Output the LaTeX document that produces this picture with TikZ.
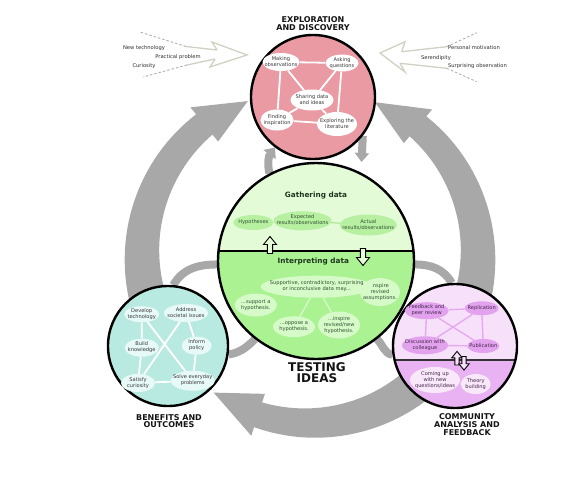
\documentclass[tikz,border=0pt]{standalone}
\usepackage{fontspec}
\setmainfont{DejaVu Sans}
\usetikzlibrary{shapes.geometric,arrows.meta}
\pgfdeclarelayer{ring}
\pgfdeclarelayer{sat}
\pgfdeclarelayer{lines}
\pgfsetlayers{ring,sat,lines,main}
\definecolor{ringgray}{RGB}{168,168,168}
\definecolor{pinkfill}{RGB}{234,154,162}
\definecolor{greentop}{RGB}{228,251,216}
\definecolor{greenbot}{RGB}{170,242,146}
\definecolor{greenell}{RGB}{182,240,160}
\definecolor{greenell2}{RGB}{214,250,200}
\definecolor{greenline}{RGB}{170,232,150}
\definecolor{greenlinetwo}{RGB}{214,250,200}
\definecolor{greentxt}{RGB}{50,80,50}
\definecolor{greentitle}{RGB}{30,55,30}
\definecolor{tealfill}{RGB}{185,234,225}
\definecolor{tealell}{RGB}{232,250,247}
\definecolor{purptop}{RGB}{247,224,250}
\definecolor{purpbot}{RGB}{233,178,242}
\definecolor{purpell}{RGB}{226,162,238}
\definecolor{purpelltwo}{RGB}{248,232,250}
\definecolor{purpline}{RGB}{230,168,240}
\definecolor{purptxt}{RGB}{70,38,75}
\definecolor{txtgray}{RGB}{55,55,55}
\definecolor{titleblack}{RGB}{20,20,20}
\definecolor{sidetxt}{RGB}{45,45,45}
\definecolor{sideline}{RGB}{208,208,195}
\definecolor{sidedashc}{RGB}{175,175,175}
\newcommand{\mytxt}[1]{\makebox[0pt]{\smash{\raisebox{-1.2pt}{\begin{tabular}{@{}c@{}}#1\end{tabular}}}}}
\tikzset{
 satellite/.style={circle, draw=black, line width=2.4pt, inner sep=0pt, minimum size=#1},
 sz/.style 2 args={minimum width=#1, minimum height=#2},
 itm/.style={ellipse, inner sep=0pt, font=\fontsize{5.1}{6}\selectfont},
 pitm/.style={itm, fill=white, text=txtgray},
 titm/.style={itm, fill=tealell, text=txtgray},
 gitm/.style={itm, fill=greenell, text=greentxt},
 gitmtwo/.style={itm, fill=greenell2, text=greentxt},
 uitm/.style={itm, fill=purpell, text=purptxt},
 uitmtwo/.style={itm, fill=purpelltwo, text=purptxt},
 heading/.style={font=\fontsize{8}{7.8}\selectfont\bfseries, text=titleblack, align=center, inner sep=0pt},
 subhead/.style={font=\fontsize{7.3}{8}\selectfont\bfseries, text=greentitle, inner sep=0pt},
 sidetext/.style={font=\fontsize{5.2}{6}\selectfont, text=sidetxt, inner sep=0pt},
 wline/.style={draw=white, line width=1.8pt},
 uline/.style={draw=purpline, line width=1.4pt},
 gline/.style={draw=greenline, line width=1.2pt},
 glinetwo/.style={draw=greenlinetwo, line width=1.4pt},
 conn/.style={draw=ringgray, line width=8pt},
 hollowarr/.style={draw=black, line width=0.9pt, fill=#1, line join=miter},
 hup/.pic={\draw[hollowarr=#1] (-2.6,0) -- (-2.6,9) -- (-6.5,9) -- (0,17) -- (6.5,9) -- (2.6,9) -- (2.6,0) -- cycle;},
 sidearr/.style={draw=sideline, line width=1.3pt, line join=miter},
 sidedash/.style={draw=sidedashc, line width=0.9pt, dash pattern=on 2.5pt off 2pt}
}
\begin{document}
\begin{tikzpicture}[x=1pt,y=1pt]
\useasboundingbox (0,0) rectangle (580,-480);

% ---------- satellite circles ----------
\begin{pgfonlayer}{sat}
\node[satellite=124, fill=pinkfill] (pink) at (313,-97) {};
\node[satellite=196, fill=greenbot, path picture={
  \fill[greentop] ([yshift=10.3pt]path picture bounding box.west) rectangle (path picture bounding box.north east);
  \draw[line width=1.6pt] ([yshift=10.3pt]path picture bounding box.west) -- ([yshift=10.3pt]path picture bounding box.east);}] (green) at (316,-261) {};
\node[satellite=120, fill=tealfill] (teal) at (168,-346) {};
\node[satellite=124, fill=purpbot, path picture={
  \fill[purptop] ([yshift=-14pt]path picture bounding box.west) rectangle (path picture bounding box.north east);
  \draw[line width=1.2pt, draw=black!80] ([yshift=-14pt]path picture bounding box.west) -- ([yshift=-14pt]path picture bounding box.east);}] (purple) at (455,-346) {};
\end{pgfonlayer}

% ---------- exploration items ----------
\node[pitm, sz={37}{18}] (mk) at (281,-62) {\mytxt{Making\\observations}};
\node[pitm, sz={33}{17}] (ak) at (342,-63) {\mytxt{Asking\\questions}};
\node[pitm, sz={43}{21}] (sh) at (312,-100) {\mytxt{Sharing data\\and ideas}};
\node[pitm, sz={33}{21}] (fi) at (277,-120) {\mytxt{Finding\\inspiration}};
\node[pitm, sz={40}{24}] (xl) at (337,-124) {\mytxt{Exploring the\\literature}};

% ---------- benefits items ----------
\node[titm, sz={35}{16}] (dv) at (141.7,-314.3) {\mytxt{Develop\\technology}};
\node[titm, sz={44}{18}] (ad) at (186,-313) {\mytxt{Address\\societal issues}};
\node[titm, sz={34}{18}] (bk) at (141.7,-347.7) {\mytxt{Build\\knowledge}};
\node[titm, sz={30}{18}] (ip) at (196.7,-345.7) {\mytxt{Inform\\policy}};
\node[titm, sz={34}{18}] (sc) at (138,-383) {\mytxt{Satisfy\\curiosity}};
\node[titm, sz={44}{20}] (sv) at (192.7,-380.7) {\mytxt{Solve everyday\\problems}};

% ---------- community items ----------
\node[uitm, sz={44}{17}] (fb) at (426.7,-310.7) {\mytxt{Feedback and\\peer review}};
\node[uitm, sz={34}{14}] (rp) at (481.7,-308.3) {\mytxt{Replication}};
\node[uitm, sz={46}{18}] (dc) at (425,-345.3) {\mytxt{Discussion with\\colleague}};
\node[uitm, sz={32}{14}] (pb) at (483.3,-346) {\mytxt{Publication}};
\node[uitmtwo, sz={50}{26}] (cu) at (435,-380) {\mytxt{Coming up\\with new\\questions/ideas}};
\node[uitmtwo, sz={30}{20}] (tb) at (475.7,-384) {\mytxt{Theory\\building}};

% ---------- testing ideas items ----------
\node[subhead] (gath) at (316,-196) {Gathering data};
\node[gitm, sz={40}{15}] (hy) at (253.3,-222.5) {\mytxt{Hypotheses}};
\node[gitm, sz={58}{19}] (er) at (302.5,-220.8) {\mytxt{Expected\\results/observations}};
\node[gitm, sz={57}{21}] (ar) at (368.3,-225) {\mytxt{Actual\\results/observations}};
\node[subhead] (interp) at (313.3,-262) {Interpreting data};
\node[gitmtwo, sz={42}{23}] (sa) at (255.8,-305) {\mytxt{...support a\\hypothesis.}};
\node[gitmtwo, sz={40}{28}] (ia) at (380,-292) {\mytxt{.nspire\\revised\\assumptions.}};
\node[gitmtwo, sz={112}{22}] (gsup) at (316.7,-286.7) {\mytxt{Supportive, contradictory, surprising\\or inconclusive data may...}};
\node[gitmtwo, sz={42}{21}] (oa) at (294,-326.7) {\mytxt{...oppose a\\hypothesis.}};
\node[gitmtwo, sz={42}{27}] (ih) at (339,-325) {\mytxt{...inspire\\revised/new\\hypothesis.}};

\pic at (270,-253.5) {hup=greentop};
\pic[rotate=180] at (363,-248.5) {hup=greentop};
\pic[scale=0.8] at (457,-365) {hup=purptop};
\pic[scale=0.8, rotate=180] at (464,-356.5) {hup=purptop};

% ---------- internal links ----------
\begin{pgfonlayer}{lines}
\draw[wline] (mk)--(ak) (mk)--(fi) (ak)--(xl) (fi)--(xl) (sh)--(mk) (sh)--(ak) (sh)--(fi) (sh)--(xl);
\draw[wline] (dv)--(bk) (bk)--(sc) (dv)--(sv) (ad)--(sc) (ad)--(ip) (ip)--(sv) (sc)--(sv);
\draw[uline] (fb)--(rp) (fb)--(dc) (rp)--(pb) (dc)--(pb) (fb)--(pb) (rp)--(dc);
\draw[gline] (hy)--(er) (er)--(ar);
\draw[glinetwo] (gsup)--(oa) (gsup)--(ih);
\end{pgfonlayer}

% ---------- headings ----------
\node[heading] (hExp) at (313,-23.5) {EXPLORATION\\AND DISCOVERY};
\node[heading, font=\fontsize{12}{11}\selectfont\bfseries] (hTest) at (317,-372.5) {TESTING\\IDEAS};
\node[heading] (hBen) at (169,-421) {BENEFITS AND\\OUTCOMES};
\node[heading] (hCom) at (467,-424.5) {COMMUNITY\\ANALYSIS AND\\FEEDBACK};

% ---------- side input arrows ----------
\draw[sidearr, fill=white] (217,-50) -- (212,-42) -- (247,-55) -- (210,-67) -- (215,-59);
\draw[sidearr] (217,-50) -- (186,-46.5);
\draw[sidearr] (215,-59) -- (187,-65);
\draw[sidedash] (186,-46.5) -- (140,-32);
\draw[sidedash] (187,-65) -- (143,-77);
\draw[sidearr, fill=white] (401.7,-51.7) -- (405,-41.7) -- (380,-53) -- (405,-72) -- (400,-63.3);
\draw[sidearr] (401.7,-51.7) -- (446.7,-46.7);
\draw[sidearr] (400,-63.3) -- (446.7,-68.3);
\draw[sidedash] (446.7,-46.7) -- (476.7,-32.7);
\draw[sidedash] (446.7,-68.3) -- (476.7,-81.7);
\node[sidetext] (s1) at (144,-48) {New technology};
\node[sidetext] (s2) at (178,-57) {Practical problem};
\node[sidetext] (s3) at (144,-66) {Curiosity};
\node[sidetext] (s4) at (474,-48) {Personal motivation};
\node[sidetext] (s5) at (436,-58) {Serendipity};
\node[sidetext] (s6) at (477.5,-66) {Surprising observation};

% ---------- big ring and connectors ----------
\begin{pgfonlayer}{ring}
\fill[white] (0,0) rectangle (580,-480);
\fill[ringgray]
 plot[domain=213:129, samples=40] ({310+(181+7*(\x-129)/84)*cos(\x)}, {-255+(181+7*(\x-129)/84)*sin(\x)})
 -- ({310+190*cos(129)}, {-255+190*sin(129)})
 -- ({310+166*cos(112)}, {-255+166*sin(112)})
 -- ({310+146*cos(129)}, {-255+146*sin(129)})
 -- plot[domain=129:213, samples=40] ({310+(155-7*(\x-129)/84)*cos(\x)}, {-255+(155-7*(\x-129)/84)*sin(\x)})
 -- cycle;
\fill[ringgray]
 plot[domain=-32:50, samples=40] ({310+(181+7*(50-\x)/82)*cos(\x)}, {-255+(181+7*(50-\x)/82)*sin(\x)})
 -- ({310+190*cos(50)}, {-255+190*sin(50)})
 -- ({310+166*cos(67)}, {-255+166*sin(67)})
 -- ({310+146*cos(50)}, {-255+146*sin(50)})
 -- plot[domain=50:-32, samples=40] ({310+(155-7*(50-\x)/82)*cos(\x)}, {-255+(155-7*(50-\x)/82)*sin(\x)})
 -- cycle;
\fill[ringgray]
 plot[domain=328:252, samples=40] ({310+(181+7*(\x-252)/76)*cos(\x)}, {-255+(181+7*(\x-252)/76)*sin(\x)})
 -- ({310+190*cos(252)}, {-255+190*sin(252)})
 -- ({310+168*cos(235)}, {-255+168*sin(235)})
 -- ({310+146*cos(252)}, {-255+146*sin(252)})
 -- plot[domain=252:328, samples=40] ({310+(155-7*(\x-252)/76)*cos(\x)}, {-255+(155-7*(\x-252)/76)*sin(\x)})
 -- cycle;
\draw[conn, -{Triangle[width=15pt,length=9pt]}] (green.118) to[bend left=25] (pink.233);
\coordinate (pgtip) at (361.5,-162);
\draw[conn, -{Triangle[width=14pt,length=9pt]}] (pink.-38) -- (pgtip);
\draw[conn] (green.182) to[out=180,in=60] (teal.85);
\draw[conn] (green.232) to[out=225,in=10] (teal.-8);
\draw[conn] (green.-2) to[out=0,in=120] (purple.93);
\draw[conn] (green.-52) to[out=-45,in=170] (purple.188);
\end{pgfonlayer}
\end{tikzpicture}
\end{document}
